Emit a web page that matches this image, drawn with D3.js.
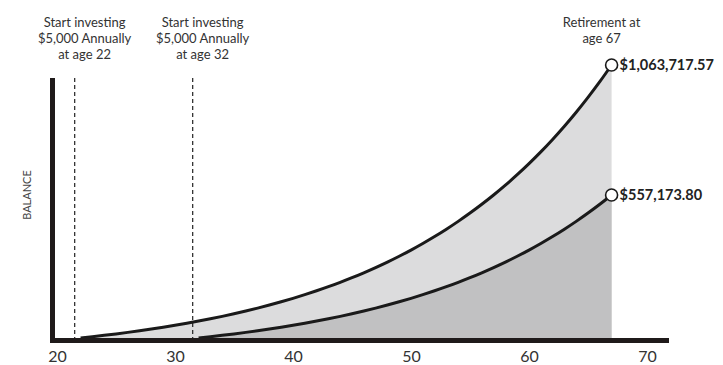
<!DOCTYPE html>
<html>
<head>
<meta charset="utf-8">
<script src="https://cdn.jsdelivr.net/npm/d3@7"></script>
<style>
  html, body { margin: 0; padding: 0; background: #fff; }
  svg { display: block; }
  text { font-family: Lato, "Open Sans", sans-serif; }
</style>
</head>
<body>
<svg id="chart" width="723" height="365"></svg>
<script>
// Year-end balances, $5,000 invested each year at 6%
const startA = 22;
const startB = 32;
const retireAge = 67;
const balanceA = [0, 5000, 10300, 15918, 21873, 28185, 34877, 41969, 49487, 57457,
  65904, 74858, 84350, 94411, 105075, 116380, 128363, 141064, 154528, 168800,
  183928, 199964, 216961, 234979, 254078, 274323, 295782, 318529, 342641, 368199,
  395291, 424008, 454449, 486716, 520919, 557174, 595604, 636341, 679521, 725292,
  773810, 825238, 879753, 937538, 998790, 1063717.57];
const balanceB = [0, 5000, 10300, 15918, 21873, 28185, 34877, 41969, 49487, 57457,
  65904, 74858, 84350, 94411, 105075, 116380, 128363, 141064, 154528, 168800,
  183928, 199964, 216961, 234979, 254078, 274323, 295782, 318529, 342641, 368199,
  395291, 424008, 454449, 486716, 520919, 557173.80];
const xTicks = [20, 30, 40, 50, 60, 70];
const startNotes = [
  { age: startA, lines: ["Start investing", "$5,000 Annually", "at age 22"] },
  { age: startB, lines: ["Start investing", "$5,000 Annually", "at age 32"] }
];
const retireNote = ["Retirement at", "age 67"];
const endLabels = ["$1,063,717.57", "$557,173.80"];

const seriesA = balanceA.map((v, i) => ({ age: startA + i, value: v }));
const seriesB = balanceB.map((v, i) => ({ age: startB + i, value: v }));

const svg = d3.select("#chart");
const x = d3.scaleLinear().domain([20, 70]).range([57, 647]);
const y = d3.scaleLinear().domain([0, balanceA[balanceA.length - 1]]).range([338, 65]);

const area = d3.area().x(d => x(d.age)).y0(y(0)).y1(d => y(d.value)).curve(d3.curveMonotoneX);
const line = d3.line().x(d => x(d.age)).y(d => y(d.value)).curve(d3.curveMonotoneX);

// shaded balances
svg.append("path").datum(seriesA).attr("d", area).attr("fill", "#dcdcdd");
svg.append("path").datum(seriesB).attr("d", area).attr("fill", "#c1c1c2");

// start markers
svg.selectAll(".start").data(startNotes).join("line")
  .attr("x1", d => x(d.age - 0.5)).attr("x2", d => x(d.age - 0.5))
  .attr("y1", 78).attr("y2", 338)
  .attr("stroke", "#222").attr("stroke-width", 1.2).attr("stroke-dasharray", "4,3");

// growth curves
[seriesA, seriesB].forEach(s => {
  svg.append("path").datum(s).attr("d", line)
    .attr("fill", "none").attr("stroke", "#1a1a1a").attr("stroke-width", 3);
});

// axes
svg.append("line").attr("x1", 52.5).attr("x2", 52.5).attr("y1", 78).attr("y2", 343)
  .attr("stroke", "#1f1a1a").attr("stroke-width", 5);
svg.append("line").attr("x1", 50).attr("x2", 669).attr("y1", 340.5).attr("y2", 340.5)
  .attr("stroke", "#1f1a1a").attr("stroke-width", 5);

const xAxis = svg.append("g").attr("transform", "translate(0,347)")
  .call(d3.axisBottom(x).tickValues(xTicks).tickSize(0).tickPadding(0).tickFormat(d3.format("d")));
xAxis.select(".domain").remove();
xAxis.selectAll("text")
  .attr("font-family", "Lato, sans-serif").attr("font-size", 16).attr("fill", "#333")
  .attr("dy", "0.95em");

svg.append("text").attr("transform", "translate(31,195) rotate(-90)")
  .attr("text-anchor", "middle").attr("font-size", 11).attr("fill", "#444")
  .text("BALANCE");

// annotations
startNotes.forEach(n => {
  const t = svg.append("text").attr("text-anchor", "middle").attr("font-size", 13).attr("fill", "#333");
  n.lines.forEach((l, i) => t.append("tspan").attr("x", x(n.age) + 4).attr("y", 27 + i * 16).text(l));
});
const rt = svg.append("text").attr("text-anchor", "middle").attr("font-size", 13).attr("fill", "#333");
retireNote.forEach((l, i) => rt.append("tspan").attr("x", x(retireAge) - 10).attr("y", 27 + i * 16).text(l));

// end points
const ends = [seriesA[seriesA.length - 1], seriesB[seriesB.length - 1]];
svg.selectAll(".end").data(ends).join("circle")
  .attr("cx", d => x(d.age)).attr("cy", d => y(d.value)).attr("r", 6)
  .attr("fill", "#fff").attr("stroke", "#1a1a1a").attr("stroke-width", 1.6);
svg.selectAll(".endlabel").data(ends).join("text")
  .attr("x", d => x(d.age) + 8).attr("y", d => y(d.value) + 5)
  .attr("font-size", 14.5).attr("font-weight", 700).attr("fill", "#222")
  .text((d, i) => endLabels[i]);
</script>
</body>
</html>
